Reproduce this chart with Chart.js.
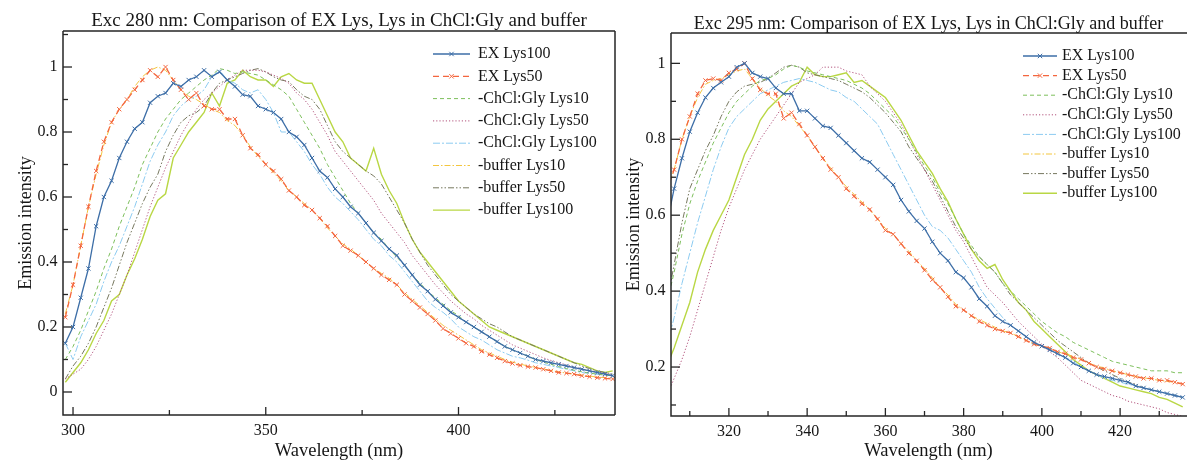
<!DOCTYPE html>
<html><head><meta charset="utf-8">
<script src="https://cdn.jsdelivr.net/npm/chart.js@4.4.0/dist/chart.umd.min.js"></script>
<style>
html,body{margin:0;padding:0;background:#fff;}
#wrap{position:relative;width:1187px;height:460px;overflow:hidden;background:#fff;}
#c1box{position:absolute;left:0;top:0;width:620px;height:460px;}
#c2box{position:absolute;left:620px;top:0;width:570px;height:460px;}
</style></head><body>
<div id="wrap"><div id="c1box"><canvas id="c1"></canvas></div><div id="c2box"><canvas id="c2"></canvas></div></div>
<script>
// ---------- categories / tick labels ----------
const seriesNames = ['EX Lys100','EX Lys50','-ChCl:Gly Lys10','-ChCl:Gly Lys50','-ChCl:Gly Lys100','-buffer Lys10','-buffer Lys50','-buffer Lys100'];
const leftTitle = 'Exc 280 nm: Comparison of EX Lys, Lys in ChCl:Gly and buffer';
const rightTitle = 'Exc 295 nm: Comparison of EX Lys, Lys in ChCl:Gly and buffer';
const xAxisTitle = 'Wavelength (nm)';
const yAxisTitle = 'Emission intensity';
const leftXTicks = [300, 350, 400];
const leftXMinor = [325, 375, 425];
const leftYTicks = [0, 0.2, 0.4, 0.6, 0.8, 1];
const leftYMinor = [0.1, 0.3, 0.5, 0.7, 0.9, 1.1];
const rightXTicks = [320, 340, 360, 380, 400, 420];
const rightXMinor = [310, 330, 350, 370, 390, 410, 430];
const rightYTicks = [0.2, 0.4, 0.6, 0.8, 1];
const rightYMinor = [0.1, 0.3, 0.5, 0.7, 0.9];

// ---------- wavelengths ----------
const leftWavelengths = [298,300,302,304,306,308,310,312,314,316,318,320,322,324,326,328,330,332,334,336,338,340,342,344,346,348,350,352,354,356,358,360,362,364,366,368,370,372,374,376,378,380,382,384,386,388,390,392,394,396,398,400,402,404,406,408,410,412,414,416,418,420,422,424,426,428,430,432,434,436,438,440];
const rightWavelengths = [304,306,308,310,312,314,316,318,320,322,324,326,328,330,332,334,336,338,340,342,344,346,348,350,352,354,356,358,360,362,364,366,368,370,372,374,376,378,380,382,384,386,388,390,392,394,396,398,400,402,404,406,408,410,412,414,416,418,420,422,424,426,428,430,432,434,436];

// ---------- Exc 280 nm series ----------
const left_EXLys100 = [.15,.20,.29,.38,.51,.60,.65,.72,.77,.81,
 .83,.89,.91,.92,.95,.94,.96,.97,.99,.97,
 .985,.96,.94,.915,.91,.88,.87,.86,.84,.80,
 .785,.76,.72,.68,.66,.625,.60,.57,.55,.52,
 .49,.465,.44,.42,.39,.36,.33,.31,.285,.265,
 .245,.23,.215,.20,.185,.17,.155,.14,.13,.12,
 .11,.10,.095,.09,.085,.08,.075,.07,.065,.06,
 .055,.05];
const left_EXLys50 = [.23,.33,.45,.57,.68,.77,.83,.87,.90,.93,
 .96,.99,.97,1.0,.96,.93,.90,.92,.88,.87,
 .87,.84,.84,.79,.75,.73,.70,.68,.655,.62,
 .60,.575,.56,.535,.51,.48,.45,.435,.42,.40,
 .38,.36,.345,.33,.30,.28,.26,.24,.22,.195,
 .18,.165,.15,.14,.125,.115,.105,.095,.088,.082,
 .078,.075,.07,.065,.06,.058,.055,.05,.047,.044,
 .042,.04];
const left_GlyLys10 = [.10,.14,.19,.25,.31,.38,.44,.51,.57,.63,
 .70,.75,.80,.84,.87,.90,.92,.94,.96,.975,
 .995,.99,.98,.985,.98,.975,.96,.945,.93,.91,
 .87,.83,.79,.75,.70,.66,.62,.58,.55,.52,
 .49,.47,.44,.415,.39,.36,.335,.31,.29,.27,
 .25,.235,.215,.20,.185,.17,.155,.14,.13,.12,
 .11,.10,.092,.085,.078,.072,.067,.062,.058,.055,
 .052,.05];
const left_GlyLys50 = [.04,.055,.07,.10,.14,.19,.24,.30,.36,.43,
 .50,.57,.63,.69,.74,.79,.83,.87,.90,.92,
 .94,.96,.975,.99,.99,.99,.985,.975,.965,.95,
 .92,.90,.87,.83,.79,.74,.71,.68,.65,.62,
 .59,.55,.52,.49,.46,.42,.39,.36,.33,.305,
 .28,.26,.24,.225,.205,.19,.175,.16,.145,.135,
 .125,.115,.105,.097,.09,.083,.077,.071,.066,.061,
 .057,.053];
const left_GlyLys100 = [.15,.10,.17,.22,.27,.34,.40,.45,.51,.57,
 .64,.71,.76,.80,.85,.88,.90,.91,.93,.97,
 .99,.96,.95,.93,.92,.93,.90,.86,.80,.80,
 .77,.74,.70,.67,.63,.60,.58,.555,.53,.50,
 .47,.45,.42,.40,.37,.34,.31,.28,.26,.245,
 .225,.20,.185,.17,.16,.145,.13,.12,.11,.105,
 .098,.09,.085,.08,.075,.07,.065,.06,.057,.054,
 .052,.05];
const left_bufLys10 = [.24,.33,.45,.57,.67,.76,.83,.87,.90,.94,
 .97,.99,1.0,.99,.96,.93,.91,.90,.885,.87,
 .86,.835,.82,.79,.755,.725,.70,.675,.65,.62,
 .60,.58,.56,.535,.505,.48,.455,.44,.42,.40,
 .38,.365,.35,.33,.305,.285,.265,.245,.225,.205,
 .19,.175,.16,.145,.13,.12,.11,.10,.092,.086,
 .08,.076,.071,.066,.062,.058,.055,.052,.049,.046,
 .044,.042];
const left_bufLys50 = [.04,.08,.11,.15,.20,.26,.32,.39,.46,.52,
 .58,.63,.67,.74,.79,.83,.85,.86,.88,.92,
 .95,.96,.97,.98,.99,.995,.985,.97,.96,.955,
 .93,.91,.90,.87,.82,.77,.74,.72,.70,.68,
 .665,.64,.60,.56,.52,.47,.43,.39,.36,.33,
 .30,.28,.26,.24,.225,.21,.20,.185,.17,.16,
 .15,.14,.13,.12,.11,.10,.09,.08,.072,.065,
 .06,.055];
const left_bufLys100 = [.03,.06,.09,.13,.18,.22,.28,.30,.36,.41,
 .47,.54,.59,.61,.72,.76,.80,.83,.86,.92,
 .88,.95,.96,.99,.97,.96,.96,.94,.97,.98,
 .96,.95,.95,.90,.85,.80,.77,.72,.70,.68,
 .75,.67,.62,.58,.52,.47,.43,.40,.37,.34,
 .31,.28,.26,.24,.22,.20,.19,.18,.17,.16,
 .15,.14,.13,.12,.11,.10,.09,.085,.075,.065,
 .06,.065];

// ---------- Exc 295 nm series ----------
const right_EXLys100 = [.57,.67,.75,.82,.87,.91,.935,.95,.965,.99,
 1.0,.975,.965,.96,.935,.92,.92,.875,.875,.855,
 .835,.83,.81,.79,.77,.75,.74,.72,.70,.68,
 .64,.61,.585,.565,.53,.50,.48,.45,.435,.41,
 .38,.36,.335,.32,.31,.295,.28,.265,.255,.245,
 .235,.225,.21,.20,.19,.18,.175,.17,.165,.16,
 .15,.145,.14,.135,.13,.125,.12];
const right_EXLys50 = [.66,.72,.80,.86,.92,.955,.96,.955,.975,.985,
 1.0,.96,.93,.92,.92,.855,.87,.84,.81,.78,
 .75,.72,.70,.67,.65,.63,.615,.59,.56,.55,
 .525,.50,.48,.455,.43,.41,.385,.36,.35,.335,
 .32,.31,.30,.295,.29,.28,.27,.26,.255,.25,
 .24,.235,.225,.22,.21,.20,.195,.19,.185,.18,
 .175,.17,.17,.165,.165,.16,.155];
const right_GlyLys10 = [.36,.45,.55,.63,.69,.74,.79,.83,.87,.90,
 .92,.94,.955,.96,.97,.985,.995,.99,.98,.975,
 .97,.965,.96,.955,.945,.935,.92,.90,.88,.86,
 .83,.80,.765,.73,.70,.66,.63,.59,.55,.52,
 .49,.47,.45,.42,.40,.38,.36,.34,.32,.305,
 .29,.28,.265,.255,.245,.235,.225,.215,.21,.205,
 .20,.195,.19,.19,.19,.185,.185];
const right_GlyLys50 = [.12,.17,.22,.28,.35,.42,.49,.56,.62,.67,
 .72,.76,.80,.83,.86,.89,.92,.95,.96,.97,
 .99,.99,.99,.98,.975,.97,.94,.92,.90,.87,
 .84,.80,.76,.72,.68,.64,.60,.56,.53,.49,
 .45,.41,.39,.37,.345,.32,.30,.28,.26,.24,
 .225,.205,.185,.165,.155,.145,.135,.125,.12,.11,
 .105,.10,.095,.09,.08,.075,.07];
const right_GlyLys100 = [.25,.33,.42,.50,.58,.65,.72,.78,.83,.86,
 .88,.90,.92,.93,.94,.95,.955,.96,.955,.95,
 .94,.93,.925,.91,.90,.88,.86,.84,.80,.76,
 .72,.68,.64,.60,.57,.56,.54,.51,.48,.45,
 .41,.38,.355,.33,.31,.295,.28,.265,.255,.245,
 .235,.225,.215,.20,.19,.18,.17,.165,.16,.155,
 .15,.145,.14,.135,.13,.125,.12];
const right_bufLys10 = [.66,.72,.80,.86,.91,.945,.955,.96,.97,.98,
 .985,.96,.935,.915,.90,.875,.86,.835,.81,.78,
 .75,.725,.70,.675,.655,.635,.615,.59,.565,.55,
 .525,.505,.48,.46,.435,.41,.39,.365,.35,.335,
 .325,.315,.305,.295,.29,.28,.27,.26,.255,.25,
 .24,.235,.228,.22,.21,.203,.197,.19,.185,.18,
 .175,.172,.168,.165,.162,.16,.155];
const right_bufLys50 = [.36,.47,.58,.67,.72,.77,.81,.86,.90,.925,
 .94,.945,.95,.96,.975,.99,.995,.99,.975,.97,
 .965,.96,.955,.945,.935,.925,.91,.89,.87,.845,
 .82,.78,.75,.72,.69,.65,.61,.57,.54,.51,
 .49,.47,.45,.42,.39,.37,.35,.33,.31,.29,
 .27,.255,.24,.225,.21,.20,.19,.18,.17,.16,
 .155,.145,.14,.135,.13,.125,.12];
const right_bufLys100 = [.20,.25,.31,.37,.45,.51,.56,.60,.64,.70,
 .76,.80,.85,.88,.90,.92,.94,.95,.99,.97,
 .965,.965,.97,.975,.95,.955,.94,.925,.91,.88,
 .85,.81,.77,.74,.71,.67,.635,.59,.55,.51,
 .48,.46,.47,.43,.40,.37,.35,.32,.30,.28,
 .26,.24,.22,.205,.19,.18,.17,.16,.15,.145,
 .14,.135,.13,.12,.115,.105,.095];

// ---------- styles ----------
const seriesColors = ['#3d6ea7','#f4663e','#7dbf5c','#b2537c','#8ccbf1','#f3c63f','#77785f','#b9d744'];
const seriesDash = [[], [6,4], [4,3], [1.2,2], [7,2,2,2], [6,2,1.5,2], [6,2,1.5,2,1.5,2], []];
const seriesWidth = [1.3, 1.3, 1, 1, 1, 1, 1, 1.4];
const seriesMarker = [true, true, false, false, false, false, false, false];

const FONT = '"Liberation Serif", "Times New Roman", serif';
const TXT = '#161616';

function buildDatasets(xs, seriesList) {
  return seriesList.map((vals, i) => ({
    label: seriesNames[i],
    data: xs.map((x, j) => ({x: x, y: vals[j]})),
    borderColor: seriesColors[i],
    backgroundColor: seriesColors[i],
    borderWidth: seriesWidth[i],
    borderDash: seriesDash[i],
    pointStyle: 'crossRot',
    pointRadius: seriesMarker[i] ? 3 : 0,
    pointBorderWidth: 1,
    pointHoverRadius: 0,
    tension: 0,
    fill: false,
    clip: 0,
    order: seriesMarker[i] ? 0 : 1
  }));
}

const decorPlugin = {
  id: 'decor',
  afterDraw(chart, args, o) {
    const ctx = chart.ctx, a = chart.chartArea, xs = chart.scales.x, ys = chart.scales.y;
    ctx.save();
    const seg = (x1, y1, x2, y2) => { ctx.beginPath(); ctx.moveTo(x1, y1); ctx.lineTo(x2, y2); ctx.stroke(); };
    ctx.strokeStyle = '#262626';
    ctx.lineWidth = 1.5;
    ctx.setLineDash([]);
    ctx.beginPath();
    ctx.moveTo(a.left, a.top); ctx.lineTo(a.left, a.bottom); ctx.lineTo(a.right + (o.rightBorder ? 0 : 2), a.bottom);
    ctx.moveTo(a.left, a.top); ctx.lineTo(a.right + (o.rightBorder ? 0 : 2), a.top);
    if (o.rightBorder) { ctx.moveTo(a.right, a.top); ctx.lineTo(a.right, a.bottom); }
    ctx.stroke();
    ctx.lineWidth = 1.3;
    o.xMajor.forEach(v => { const p = xs.getPixelForValue(v); seg(p, a.bottom, p, a.bottom - 8); });
    o.xMinor.forEach(v => { const p = xs.getPixelForValue(v); seg(p, a.bottom, p, a.bottom - 5); });
    o.yMajor.forEach(v => { const p = ys.getPixelForValue(v); seg(a.left, p, a.left + 9, p); });
    o.yMinor.forEach(v => { const p = ys.getPixelForValue(v); seg(a.left, p, a.left + 5, p); });
    // legend
    ctx.font = o.legendFontSize + 'px ' + FONT;
    ctx.textBaseline = 'middle';
    ctx.textAlign = 'left';
    chart.data.datasets.forEach((ds, i) => {
      const yy = o.legendTop + i * o.legendStep;
      ctx.strokeStyle = ds.borderColor;
      ctx.lineWidth = ds.borderWidth;
      ctx.setLineDash(ds.borderDash || []);
      seg(o.legendX1, yy, o.legendX2, yy);
      ctx.setLineDash([]);
      if (ds.pointRadius > 0) {
        const cx = (o.legendX1 + o.legendX2) / 2, r = 2.2;
        ctx.lineWidth = 1;
        seg(cx - r, yy - r, cx + r, yy + r);
        seg(cx - r, yy + r, cx + r, yy - r);
      }
      ctx.fillStyle = TXT;
      ctx.fillText(ds.label, o.legendTextX, yy);
    });
    ctx.restore();
  }
};

function makeChart(id, cfg) {
  return new Chart(document.getElementById(id), {
    type: 'line',
    data: { datasets: buildDatasets(cfg.xs, cfg.series) },
    plugins: [decorPlugin],
    options: {
      responsive: true,
      maintainAspectRatio: false,
      animation: false,
      devicePixelRatio: 1,
      events: [],
      layout: { padding: { left: 0, right: cfg.padRight, top: 0, bottom: 0 } },
      scales: {
        x: {
          type: 'linear', min: cfg.xMin, max: cfg.xMax,
          afterBuildTicks: s => { s.ticks = cfg.xTicks.map(v => ({value: v})); },
          afterFit: s => { s.height = cfg.xAxisH; },
          grid: { display: false, drawTicks: false },
          border: { display: false },
          ticks: { autoSkip: false, maxRotation: 0, padding: 6, color: TXT, font: { family: FONT, size: 16 }, callback: v => String(v) },
          title: { display: true, text: xAxisTitle, color: TXT, font: { family: FONT, size: 18.5, lineHeight: 1 }, padding: { top: 0, bottom: 0 } }
        },
        y: {
          type: 'linear', min: cfg.yMin, max: cfg.yMax,
          afterBuildTicks: s => { s.ticks = cfg.yTicks.map(v => ({value: v})); },
          afterFit: s => { s.width = cfg.yAxisW; },
          grid: { display: false, drawTicks: false },
          border: { display: false },
          ticks: { autoSkip: false, padding: 5.5, color: TXT, font: { family: FONT, size: 16 }, callback: v => String(v) },
          title: { display: true, text: yAxisTitle, color: TXT, font: { family: FONT, size: 18, lineHeight: 1 }, padding: { top: cfg.yTitlePad, bottom: 0 } }
        }
      },
      plugins: {
        legend: { display: false },
        tooltip: { enabled: false },
        title: { display: true, text: cfg.title, fullSize: false, color: TXT, font: { family: FONT, size: cfg.titleSize, weight: 'normal', lineHeight: 1 }, padding: { top: cfg.titlePadTop, bottom: cfg.titlePadBottom } },
        decor: cfg.decor
      }
    }
  });
}

makeChart('c1', {
  xs: leftWavelengths,
  series: [left_EXLys100, left_EXLys50, left_GlyLys10, left_GlyLys50, left_GlyLys100, left_bufLys10, left_bufLys50, left_bufLys100],
  xMin: 297.4, xMax: 440.6, yMin: -0.0708, yMax: 1.1108,
  xTicks: leftXTicks, yTicks: leftYTicks,
  padRight: 5, xAxisH: 45, yAxisW: 63, yTitlePad: 17,
  title: leftTitle, titleSize: 19, titlePadTop: 12, titlePadBottom: 0,
  decor: { rightBorder: true, xMajor: leftXTicks, xMinor: leftXMinor, yMajor: leftYTicks, yMinor: leftYMinor,
    legendTop: 54, legendStep: 22.3, legendX1: 433, legendX2: 470, legendTextX: 478, legendFontSize: 16 }
});

makeChart('c2', {
  xs: rightWavelengths,
  series: [right_EXLys100, right_EXLys50, right_GlyLys10, right_GlyLys50, right_GlyLys100, right_bufLys10, right_bufLys50, right_bufLys100],
  xMin: 305.2, xMax: 436.84, yMin: 0.071, yMax: 1.080,
  xTicks: rightXTicks, yTicks: rightYTicks,
  padRight: 0, xAxisH: 44, yAxisW: 51, yTitlePad: 4.8,
  title: rightTitle, titleSize: 18, titlePadTop: 15, titlePadBottom: 0,
  decor: { rightBorder: false, xMajor: rightXTicks, xMinor: rightXMinor, yMajor: rightYTicks, yMinor: rightYMinor,
    legendTop: 56, legendStep: 19.6, legendX1: 403, legendX2: 437, legendTextX: 442, legendFontSize: 16 }
});
</script>
</body></html>
